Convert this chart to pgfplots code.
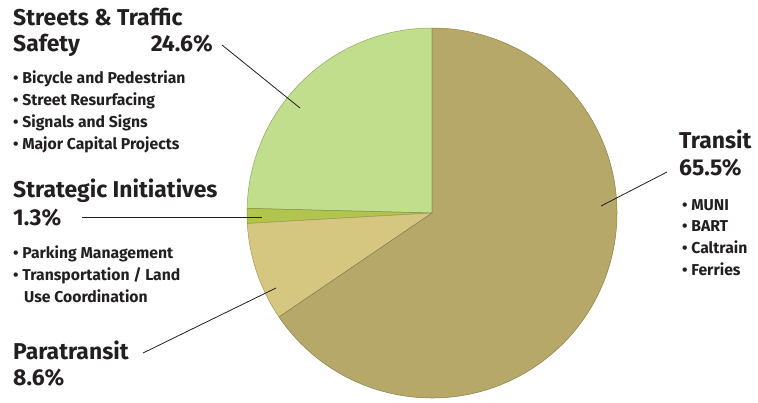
\documentclass[border=0pt]{standalone}
\usepackage{pgfplots}
\pgfplotsset{compat=1.18}
\usepackage{pgfplotstable}
\usepackage{fontspec}
\setmainfont{Fira Sans}

\definecolor{transit}{RGB}{181,168,104}
\definecolor{streets}{RGB}{192,222,140}
\definecolor{strategic}{RGB}{176,196,78}
\definecolor{paratransit}{RGB}{214,199,128}
\definecolor{txt}{RGB}{35,31,32}

\newcommand\headfont{\bfseries\fontsize{23}{27}\selectfont}
\newcommand\itemfont{\bfseries\fontsize{15.8}{19}\selectfont}

% shares in percent, drawn counter-clockwise from 12 o'clock
\pgfplotstableread{
name        share
streets     24.6
strategic   1.3
paratransit 8.6
transit     65.5
}\shares

\begin{document}
\begin{tikzpicture}
\begin{axis}[
  x=1bp, y=1bp,
  xmin=0, xmax=758, ymin=0, ymax=402,
  hide axis, clip=false,
]
  % pie: centre (432,189), radius 185
  \def\startang{90}
  \pgfplotstablegetrowsof{\shares}
  \pgfmathtruncatemacro{\nrows}{\pgfplotsretval-1}
  \pgfplotsforeachungrouped \i in {0,...,\nrows}{%
    \pgfplotstablegetelem{\i}{share}\of{\shares}\let\sh\pgfplotsretval
    \pgfplotstablegetelem{\i}{name}\of{\shares}\let\nm\pgfplotsretval
    \pgfmathsetmacro{\endang}{\startang+3.6*\sh}%
    \edef\doslice{\noexpand\fill[\nm, draw=\nm!75!black, line width=0.5pt, line join=round]
      (axis cs:432,189) -- ++(\startang:185bp) arc[start angle=\startang, end angle=\endang, radius=185bp] -- cycle;}%
    \doslice
    \global\let\startang\endang
  }

  % leader lines
  \draw[txt, line width=0.8pt] (axis cs:222,357) -- (axis cs:300,294);
  \draw[txt, line width=0.8pt] (axis cs:82,185) -- (axis cs:262,185);
  \draw[txt, line width=0.8pt] (axis cs:143,49) -- (axis cs:276,114);
  \draw[txt, line width=0.8pt] (axis cs:667,230) -- (axis cs:601,196);

  \begin{scope}[every node/.style={inner sep=0pt, text=txt}]
    % Streets & Traffic Safety
    \node[anchor=base west, font=\headfont] at (axis cs:13,377) {Streets \& Traffic};
    \node[anchor=base west, font=\headfont] at (axis cs:13,351) {Safety};
    \node[anchor=base east, font=\headfont] at (axis cs:213,351) {24.6\%};
    \node[anchor=base west, font=\itemfont] at (axis cs:13,319) {• Bicycle and Pedestrian};
    \node[anchor=base west, font=\itemfont] at (axis cs:13,297) {• Street Resurfacing};
    \node[anchor=base west, font=\itemfont] at (axis cs:13,275) {• Signals and Signs};
    \node[anchor=base west, font=\itemfont] at (axis cs:13,253) {• Major Capital Projects};
    % Strategic Initiatives
    \node[anchor=base west, font=\headfont] at (axis cs:13,205) {Strategic Initiatives};
    \node[anchor=base west, font=\headfont] at (axis cs:13,177) {1.3\%};
    \node[anchor=base west, font=\itemfont] at (axis cs:13,144) {• Parking Management};
    \node[anchor=base west, font=\itemfont] at (axis cs:13,122) {• Transportation / Land};
    \node[anchor=base west, font=\itemfont] at (axis cs:24,100) {Use Coordination};
    % Paratransit
    \node[anchor=base west, font=\headfont] at (axis cs:13,43) {Paratransit};
    \node[anchor=base west, font=\headfont] at (axis cs:13,17) {8.6\%};
    % Transit
    \node[anchor=base west, font=\headfont] at (axis cs:679,254) {Transit};
    \node[anchor=base west, font=\headfont] at (axis cs:679,227) {65.5\%};
    \node[anchor=base west, font=\itemfont] at (axis cs:682,192) {• MUNI};
    \node[anchor=base west, font=\itemfont] at (axis cs:682,171) {• BART};
    \node[anchor=base west, font=\itemfont] at (axis cs:682,149) {• Caltrain};
    \node[anchor=base west, font=\itemfont] at (axis cs:682,127) {• Ferries};
  \end{scope}
\end{axis}
\pgfresetboundingbox
\path (current axis.south west) rectangle (current axis.north east);
\end{tikzpicture}
\end{document}
